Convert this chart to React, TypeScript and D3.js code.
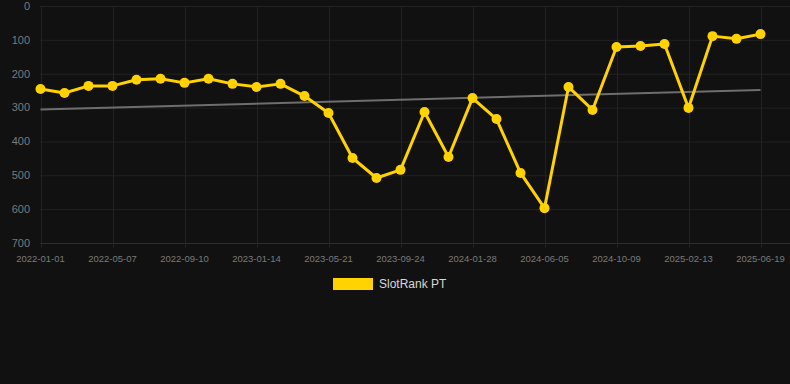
import React from "react";
import * as d3 from "d3";

const seriesName = "SlotRank PT";
const rankValues = [
  245, 257, 236, 236, 218, 215, 227, 215, 230, 239, 230, 266, 316, 449, 508, 484,
  313, 446, 272, 334, 493, 597, 239, 307, 121, 118, 112, 301, 89, 97, 83,
];
const tickLabels = [
  "2022-01-01", "2022-05-07", "2022-09-10", "2023-01-14", "2023-05-21", "2023-09-24",
  "2024-01-28", "2024-06-05", "2024-10-09", "2025-02-13", "2025-06-19",
];
const yTicks = [0, 100, 200, 300, 400, 500, 600, 700];
const trendValues = [306, 248];

const W = 790;
const H = 384;
const FONT = "'Liberation Sans', Arial, Helvetica, sans-serif";

export default function App() {
  const x = d3.scaleLinear().domain([0, rankValues.length - 1]).range([40.5, 760.5]);
  const y = d3.scaleLinear().domain([0, 700]).range([6, 243]);
  const line = d3
    .line<number>()
    .x((_, i) => x(i))
    .y((d) => y(d));
  const tickIdx = tickLabels.map((_, i) => i * 3);

  return (
    <div style={{ position: "fixed", left: 0, top: 0, width: W, height: H, background: "#111111" }}>
      <svg width={W} height={H} style={{ display: "block" }}>
        <rect x={0} y={0} width={W} height={H} fill="#111111" />
        {yTicks.map((t) => (
          <g key={t}>
            <line x1={40} x2={790} y1={y(t) + 0.5} y2={y(t) + 0.5} stroke={t === 700 ? "#2e2e2e" : "#222222"} strokeWidth={1} />
            <text x={30} y={y(t)} dy="0.35em" textAnchor="end" fill="#7a7a7a" fontSize={11} fontFamily={FONT}>
              {t}
            </text>
          </g>
        ))}
        {tickIdx.map((ti, k) => (
          <g key={ti}>
            <line x1={Math.round(x(ti)) + 0.5} x2={Math.round(x(ti)) + 0.5} y1={6} y2={248} stroke="#222222" strokeWidth={1} />
            <text x={x(ti)} y={259} dy="0.35em" textAnchor="middle" fill="#7a7a7a" fontSize={9.5} fontFamily={FONT}>
              {tickLabels[k]}
            </text>
          </g>
        ))}
        <line
          x1={x(0)}
          x2={x(rankValues.length - 1)}
          y1={y(trendValues[0])}
          y2={y(trendValues[1])}
          stroke="#6e6e6e"
          strokeWidth={2}
        />
        <path d={line(rankValues) || ""} fill="none" stroke="#FFD200" strokeWidth={3} strokeLinejoin="round" />
        {rankValues.map((v, i) => (
          <circle key={i} cx={x(i)} cy={y(v)} r={5} fill="#FFD200" />
        ))}
        <rect x={333} y={278} width={40} height={12} fill="#FFD200" />
        <text x={379} y={284} dy="0.35em" fill="#d8d8d8" fontSize={12} fontFamily={FONT}>
          {seriesName}
        </text>
      </svg>
    </div>
  );
}
